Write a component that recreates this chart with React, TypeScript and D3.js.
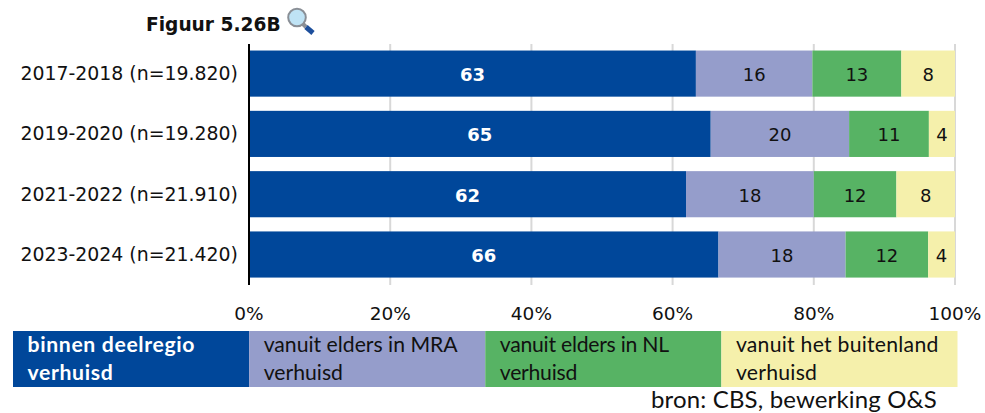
import React from "react";
import * as d3 from "d3";

const categories = ["2017-2018 (n=19.820)", "2019-2020 (n=19.280)", "2021-2022 (n=21.910)", "2023-2024 (n=21.420)"];
const binnen = [63.3, 65.4, 61.9, 66.5];
const mra = [16.5, 19.6, 18.1, 18.0];
const nl = [12.6, 11.3, 11.7, 11.7];
const buitenland = [7.6, 3.7, 8.3, 3.8];
const labels = [[63, 16, 13, 8], [65, 20, 11, 4], [62, 18, 12, 8], [66, 18, 12, 4]];
const ticks = [0, 20, 40, 60, 80, 100];
const seriesNames = [["binnen deelregio", "verhuisd"], ["vanuit elders in MRA", "verhuisd"], ["vanuit elders in NL", "verhuisd"], ["vanuit het buitenland", "verhuisd"]];
const colors = ["#00479a", "#959dcb", "#57b364", "#f5f0ab"];
const textColors = ["#fff", "#111", "#111", "#111"];
const font = "Lato, 'Open Sans', sans-serif";
const font2 = "'DejaVu Sans', sans-serif";

export default function App() {
  const x = d3.scaleLinear().domain([0, 100]).range([249, 955]);
  const y = d3.scaleBand().domain(categories).range([44.5, 283.6]).paddingInner(0.235).paddingOuter(0.1);
  const series = [binnen, mra, nl, buitenland];
  const legendX = d3.scaleLinear().domain([0, 4]).range([13, 957.5]);
  const legendW = legendX(1) - legendX(0);
  return (
    <svg width={985} height={413} style={{ position: "absolute", left: 0, top: 0, display: "block" }}>
      <text x={146} y={30.5} fontFamily={font2} fontWeight={700} fontSize={18.6} fill="#111">Figuur 5.26B</text>
      <g transform="translate(287,8)">
        <line x1={15} y1={15} x2={19} y2={19} stroke="#8a8f96" strokeWidth={4} />
        <line x1={19} y1={19} x2={26} y2={25} stroke="#1d4f9c" strokeWidth={5} />
        <circle cx={10} cy={9.5} r={8.8} fill="#bfe3f5" stroke="#8a8f96" strokeWidth={2} />
      </g>
      {ticks.slice(1).map((t) => (
        <line key={t} x1={x(t)} x2={x(t)} y1={44} y2={285} stroke="#d8d8d8" strokeWidth={2} />
      ))}
      {categories.map((c, i) => {
        let acc = 0;
        const yy = y(c)!;
        return (
          <g key={c}>
            <text x={238} y={yy + y.bandwidth() / 2 + 6.5} textAnchor="end" fontFamily={font2} fontSize={18.9} fill="#111">{c}</text>
            {series.map((s, k) => {
              const start = acc;
              acc += s[i];
              return (
                <g key={k}>
                  <rect x={x(start)} y={yy} width={x(acc) - x(start)} height={y.bandwidth()} fill={colors[k]} />
                  <text x={(x(start) + x(acc)) / 2} y={yy + y.bandwidth() / 2 + 7.5} textAnchor="middle" fontFamily={font2} fontSize={18} fontWeight={k === 0 ? 700 : 400} fill={textColors[k]}>{labels[i][k]}</text>
                </g>
              );
            })}
          </g>
        );
      })}
      <line x1={249} x2={249} y1={44} y2={285} stroke="#000" strokeWidth={2} />
      {ticks.map((t) => (
        <text key={t} x={x(t)} y={320} textAnchor="middle" fontFamily={font2} fontSize={18.5} fill="#111">{t}%</text>
      ))}
      {seriesNames.map((lines, k) => (
        <g key={k}>
          <rect x={legendX(k)} y={331} width={legendW} height={56} fill={colors[k]} />
          {lines.map((l, j) => (
            <text key={j} x={legendX(k) + 14.5} y={352 + j * 28} fontFamily={font} fontSize={21.2} fontWeight={k === 0 ? 700 : 400} fill={textColors[k]} letterSpacing={k === 0 ? 0.65 : k === 3 ? 0.25 : k === 2 ? -0.25 : 0}>{l}</text>
          ))}
        </g>
      ))}
      <text x={651} y={408} fontFamily={font} fontSize={24} letterSpacing={0.15} fill="#111">bron: CBS, bewerking O&amp;S</text>
    </svg>
  );
}
